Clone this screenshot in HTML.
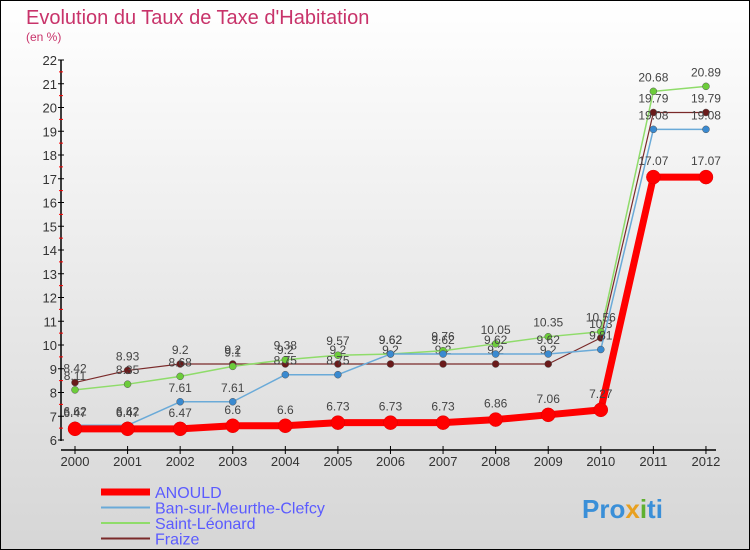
<!DOCTYPE html>
<html><head><meta charset="utf-8"><style>
body{margin:0}
#c{width:748px;height:548px;border:1px solid #000;background:linear-gradient(#fff,#d6d6d6);position:relative;overflow:hidden;font-family:"Liberation Sans",sans-serif}
</style></head><body>
<div id="c">
<svg width="748" height="548" viewBox="1 1 748 548" id="svg">
<text x="26" y="24" font-size="20" fill="#c8336a">Evolution du Taux de Taxe d'Habitation</text>
<text x="26" y="41" font-size="12" fill="#c8336a">(en %)</text>
<g id="axes"></g><g id="series"></g>
<g id="legend" font-size="16" fill="#5b5bff"></g>
<text x="582" y="518" font-size="26" font-weight="bold" fill="#3a8fd8">Pro<tspan fill="#e8a020">x</tspan><tspan fill="#60b030">i</tspan>ti</text>
</svg></div>
<script>
const years=[2000,2001,2002,2003,2004,2005,2006,2007,2008,2009,2010,2011,2012];
const anould=[6.47,6.47,6.47,6.6,6.6,6.73,6.73,6.73,6.86,7.06,7.27,17.07,17.07];
const ban=[6.62,6.62,7.61,7.61,8.75,8.75,9.62,9.62,9.62,9.62,9.81,19.08,19.08];
const leonard=[8.11,8.35,8.68,9.1,9.38,9.57,9.62,9.76,10.05,10.35,10.56,20.68,20.89];
const fraize=[8.42,8.93,9.2,9.2,9.2,9.2,9.2,9.2,9.2,9.2,10.3,19.79,19.79];
const yTicks=[6,7,8,9,10,11,12,13,14,15,16,17,18,19,20,21,22];
const NS="http://www.w3.org/2000/svg";
const xS=i=>75+i*52.58, yS=v=>440-(v-6)*23.75;
function mk(t,a,p){const e=document.createElementNS(NS,t);for(const k in a)e.setAttribute(k,a[k]);(p||document.getElementById('axes')).appendChild(e);return e;}
const ax=document.getElementById('axes');
let e=mk('line',{x1:61,y1:60,x2:61,y2:441,stroke:'#000','stroke-width':1.5});


yTicks.forEach(v=>{
 mk('line',{x1:58,y1:yS(v),x2:64,y2:yS(v),stroke:'#000'});
 if(v<22){mk('line',{x1:59,y1:yS(v+0.5),x2:63,y2:yS(v+0.5),stroke:'#f00'});}
 const t=mk('text',{x:57,y:yS(v)+5,'font-size':13,'text-anchor':'end',fill:'#333'});t.textContent=v;
 
 
});
e=mk('line',{x1:61,y1:450,x2:716,y2:450,stroke:'#000','stroke-width':1.5});


years.forEach((y,i)=>{
 mk('line',{x1:xS(i),y1:446,x2:xS(i),y2:454,stroke:'#000'});
 const t=mk('text',{x:xS(i),y:466,'font-size':13,'text-anchor':'middle',fill:'#333'});t.textContent=y;
 
 
});
const sg=document.getElementById('series');
const defs=[[fraize,'#7a2a2a','#6a1a1a',1.2,3.5,'fraize'],[leonard,'#8fdc6a','#6ccc3a',1.5,3.5,'saint-leonard'],[ban,'#6aaad8','#3a8ad0',1.5,3.5,'ban-sur-meurthe'],[anould,'#f00','#f00',7,7,'anould']];
defs.forEach(([d,c,mc,w,r,n])=>{
 const g=mk('g',{},sg);
 
 
 mk('polyline',{points:d.map((v,i)=>xS(i)+','+yS(v)).join(' '),fill:'none',stroke:c,'stroke-width':w,'stroke-linejoin':'round'},g);
 d.forEach((v,i)=>{
  const p=mk('circle',{cx:xS(i),cy:yS(v),r:r,fill:mc,stroke:n=='anould'?'#d00':'#555','stroke-width':0.5},g);
  
  
  const t=mk('text',{x:xS(i),y:yS(v)-(n=='anould'?12:10),'font-size':12,'text-anchor':'middle',fill:'#444'},g);t.textContent=v;
  
  
 });
});
const lg=document.getElementById('legend');
[['ANOULD','#f00',7],['Ban-sur-Meurthe-Clefcy','#6aaad8',2],['Saint-Léonard','#8fdc6a',2],['Fraize','#7a2a2a',2]].forEach(([n,c,w],i)=>{
 const y=492+i*15.5;
 const l=mk('line',{x1:101,y1:y,x2:150,y2:y,stroke:c,'stroke-width':w},lg);
 
 
 const t=mk('text',{x:155,y:y+6},lg);t.textContent=n;
 
 
});
</script>
</body></html>
